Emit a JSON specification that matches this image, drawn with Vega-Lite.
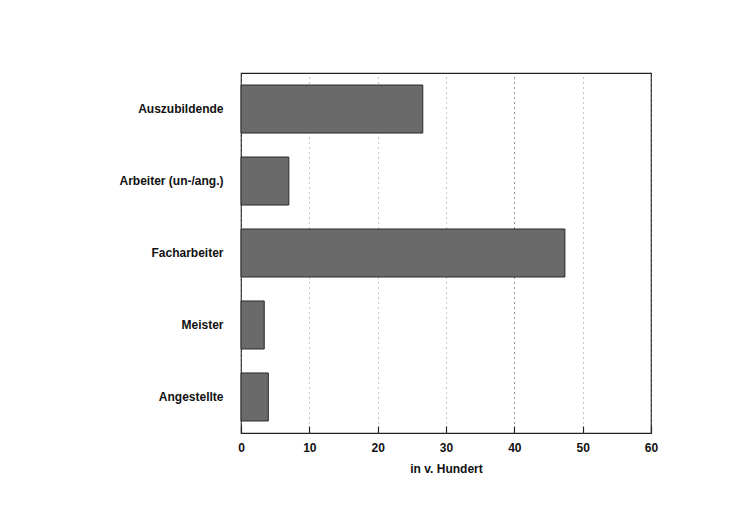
{
  "$schema": "https://vega.github.io/schema/vega-lite/v6.json",
  "autosize": {"type": "none"},
  "padding": {"left": 241, "top": 73, "right": 86, "bottom": 78},
  "width": 410,
  "height": 360,
  "background": "#ffffff",
  "data": {
    "values": [
      {"gruppe": "Auszubildende", "anteil": 26.6},
      {"gruppe": "Arbeiter (un-/ang.)", "anteil": 7.0},
      {"gruppe": "Facharbeiter", "anteil": 47.4},
      {"gruppe": "Meister", "anteil": 3.4},
      {"gruppe": "Angestellte", "anteil": 4.0}
    ]
  },
  "mark": {"type": "bar", "fill": "#6a6a6a", "stroke": "#2a2a2a", "strokeWidth": 1},
  "encoding": {
    "y": {
      "field": "gruppe",
      "type": "nominal",
      "sort": null,
      "scale": {"paddingInner": 0.333, "paddingOuter": 0.167},
      "axis": {
        "title": null,
        "ticks": false,
        "domain": false,
        "grid": false,
        "labelPadding": 18,
        "labelFont": "Liberation Sans",
        "labelFontSize": 12,
        "labelFontWeight": "bold",
        "labelColor": "#111111"
      }
    },
    "x": {
      "field": "anteil",
      "type": "quantitative",
      "scale": {"domain": [0, 60], "nice": false},
      "axis": {
        "title": "in v. Hundert",
        "values": [0, 10, 20, 30, 40, 50, 60],
        "domain": false,
        "ticks": true,
        "tickSize": -7,
        "tickWidth": 1.2,
        "tickColor": "#222222",
        "labelFlush": false,
        "labelPadding": 16,
        "labelFont": "Liberation Sans",
        "labelFontSize": 12,
        "labelFontWeight": "bold",
        "labelColor": "#111111",
        "titleFont": "Liberation Sans",
        "titleFontSize": 12,
        "titleFontWeight": "bold",
        "titleColor": "#111111",
        "titlePadding": 10,
        "grid": true,
        "gridDash": [1, 4],
        "gridColor": {"condition": {"test": "datum.value === 40", "value": "#333333"}, "value": "#888888"},
        "gridWidth": 1
      }
    }
  },
  "config": {
    "view": {"stroke": "#222222", "strokeWidth": 1.2}
  }
}
